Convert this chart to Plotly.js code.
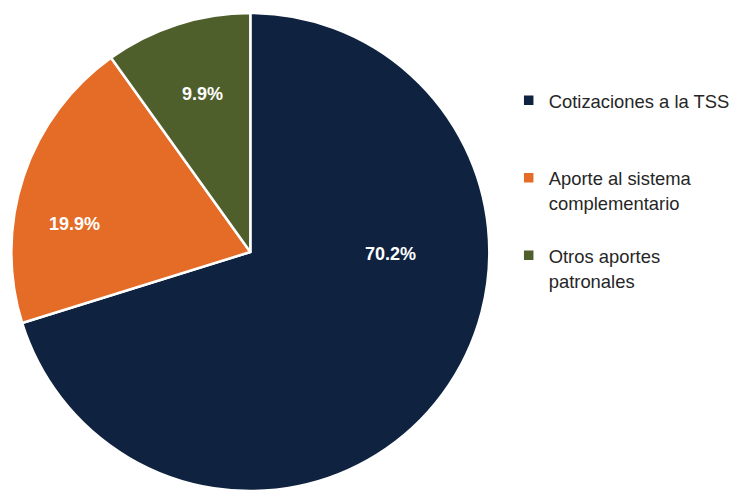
<!DOCTYPE html>
<html>
<head>
<meta charset="utf-8">
<script src="https://cdn.plot.ly/plotly-3.0.1.min.js"></script>
<style>html,body{margin:0;padding:0;background:#fff;}#chart{width:735px;height:491px;}</style>
</head>
<body>
<div id="chart"></div>
<script>
const categories = ["Cotizaciones a la TSS", "Aporte al sistema<br>complementario", "Otros aportes<br>patronales"];
const values = [70.2, 19.9, 9.9];
const colors = ["#0F2340", "#E46C26", "#4F5F2B"];

// label placement (pixels in the 735x491 page), styling only
const labelPx = [[392, 254], [75, 224], [203, 94]];
const W = 735, H = 491, MT = 13, MB = 0;

const legendLabels = categories.map(function (c) {
  const lines = c.split("<br>").length;
  let s = '<span style="font-size:18.4px">' + c + '</span>';
  for (let i = lines; i < 3; i++) s += "<br> ";
  return s;
});

const trace = {
  type: "pie",
  labels: legendLabels,
  values: values,
  sort: false,
  direction: "clockwise",
  rotation: 0,
  marker: { colors: colors, line: { color: "#ffffff", width: 2.5 } },
  textinfo: "none",
  hoverinfo: "label+percent",
  domain: { x: [0, 0.683], y: [0, 1] }
};

const total = values.reduce(function (a, b) { return a + b; }, 0);
const annotations = values.map(function (v, i) {
  return {
    xref: "paper", yref: "paper",
    x: labelPx[i][0] / W,
    y: 1 - (labelPx[i][1] - MT) / (H - MT - MB),
    xanchor: "center", yanchor: "middle",
    showarrow: false,
    text: (v / total * 100).toFixed(1) + "%",
    font: { family: "Liberation Sans, Arial, sans-serif", size: 18, color: "#ffffff", weight: "bold" }
  };
});

const layout = {
  width: W,
  height: H,
  margin: { l: 0, r: 0, t: MT, b: MB },
  paper_bgcolor: "#ffffff",
  showlegend: true,
  annotations: annotations,
  legend: {
    x: 0.694,
    xanchor: "left",
    y: 0.857,
    yanchor: "top",
    valign: "top",
    font: { family: "Liberation Sans, Arial, sans-serif", size: 19.1, color: "#262626" },
    bgcolor: "rgba(0,0,0,0)"
  }
};

Plotly.newPlot("chart", [trace], layout, { displayModeBar: false, staticPlot: true });
</script>
</body>
</html>
